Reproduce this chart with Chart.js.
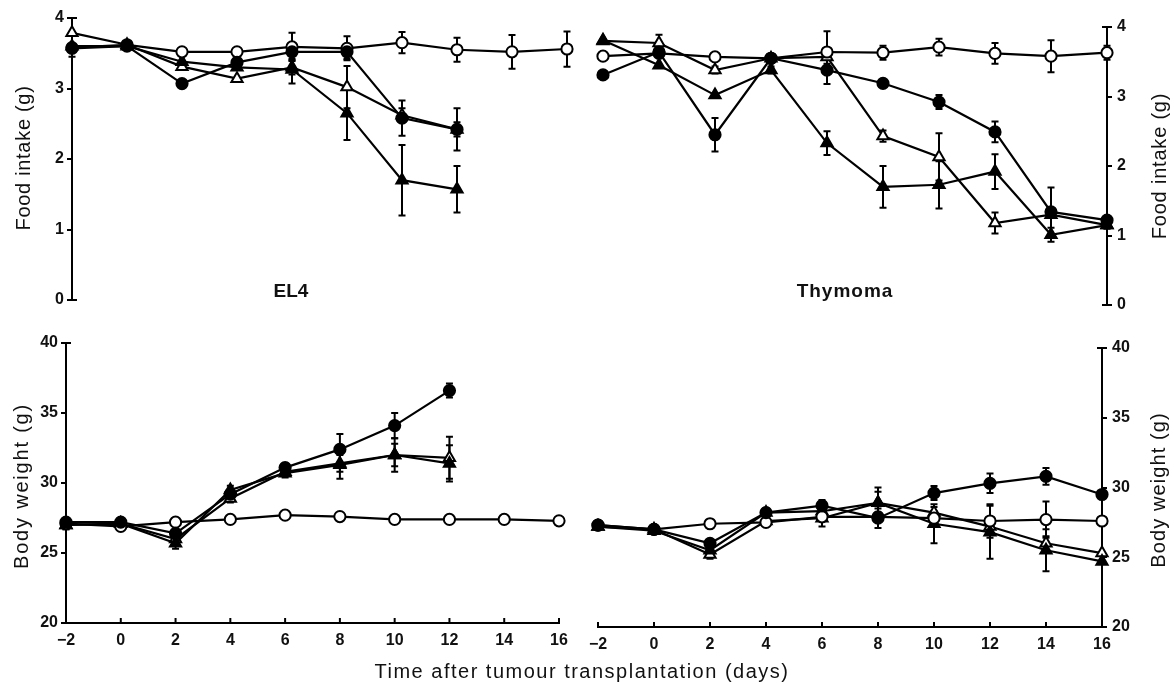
<!DOCTYPE html>
<html><head><meta charset="utf-8">
<script src="https://cdn.jsdelivr.net/npm/chart.js@4.4.1/dist/chart.umd.min.js"></script>
<style>
html,body{margin:0;padding:0;background:#fff;}
#wrap{position:relative;width:1174px;height:684px;overflow:hidden;background:#fff;}
canvas{position:absolute;left:0;top:0;}
.lbl{position:absolute;font-family:"Liberation Sans",Arial,sans-serif;color:#111;white-space:nowrap;line-height:1;}
.rot{transform:translate(-50%,-50%) rotate(-90deg);}
.ctr{transform:translate(-50%,-50%);}
</style></head><body>
<div id="wrap">
<canvas id="c1" width="1174" height="684"></canvas>
<canvas id="c2" width="1174" height="684"></canvas>
<canvas id="c3" width="1174" height="684"></canvas>
<canvas id="c4" width="1174" height="684"></canvas>
<div class="lbl ctr" style="left:291px;top:290px;font-size:19px;font-weight:bold;">EL4</div>
<div class="lbl ctr" style="left:845px;top:290px;font-size:19px;font-weight:bold;letter-spacing:1px;">Thymoma</div>
<div class="lbl ctr" style="left:582px;top:671px;font-size:20px;letter-spacing:1.5px;">Time after tumour transplantation (days)</div>
<div class="lbl rot" style="left:23px;top:158px;font-size:20px;letter-spacing:0.7px;">Food intake (g)</div>
<div class="lbl rot" style="left:21px;top:486px;font-size:20px;letter-spacing:1.8px;">Body weight (g)</div>
<div class="lbl rot" style="left:1159px;top:166px;font-size:20px;letter-spacing:0.8px;">Food intake (g)</div>
<div class="lbl rot" style="left:1158px;top:490px;font-size:20px;letter-spacing:1.1px;">Body weight (g)</div>
</div>
<script>
// ---- shared x categories / tick labels ----
const days = [-2, 0, 2, 4, 6, 8, 10, 12, 14, 16];
const xTickLabels = ['\u22122', '0', '2', '4', '6', '8', '10', '12', '14', '16'];
const foodTicks = [0, 1, 2, 3, 4];
const weightTicks = [20, 25, 30, 35, 40];

// ---- EL4: food intake (g) ----
const el4FoodOpenCircle      = [3.58, 3.62, 3.52, 3.52, 3.59, 3.57, 3.65, 3.55, 3.52, 3.56];
const el4FoodOpenCircleErr   = [0, 0.05, 0.05, 0.05, 0.2, 0.17, 0.15, 0.17, 0.24, 0.25];
const el4FoodFilledCircle    = [3.57, 3.60, 3.07, 3.37, 3.52, 3.52, 2.58, 2.42, null, null];
const el4FoodFilledCircleErr = [0, 0, 0, 0.05, 0.1, 0.1, 0.25, 0.3, null, null];
const el4FoodOpenTri         = [3.79, 3.62, 3.31, 3.14, 3.30, 3.02, 2.62, 2.42, null, null];
const el4FoodOpenTriErr      = [0, 0, 0, 0, 0.1, 0.3, 0.1, 0.1, null, null];
const el4FoodFilledTri       = [3.60, 3.60, 3.38, 3.30, 3.27, 2.65, 1.70, 1.57, null, null];
const el4FoodFilledTriErr    = [0.15, 0, 0, 0, 0.2, 0.38, 0.5, 0.33, null, null];

// ---- Thymoma: food intake (g) ----
const thyFoodOpenCircle      = [3.58, 3.62, 3.57, 3.55, 3.64, 3.63, 3.71, 3.62, 3.58, 3.63];
const thyFoodOpenCircleErr   = [0, 0.05, 0.05, 0, 0.3, 0.1, 0.12, 0.15, 0.23, 0.1];
const thyFoodFilledCircle    = [3.31, 3.64, 2.45, 3.55, 3.38, 3.19, 2.92, 2.49, 1.34, 1.22];
const thyFoodFilledCircleErr = [0, 0, 0.24, 0.05, 0.2, 0.05, 0.1, 0.15, 0.35, 0.05];
const thyFoodOpenTri         = [3.80, 3.77, 3.38, 3.55, 3.57, 2.43, 2.13, 1.18, 1.30, 1.15];
const thyFoodOpenTriErr      = [0, 0.12, 0.05, 0, 0.1, 0.08, 0.34, 0.15, 0, 0.05];
const thyFoodFilledTri       = [3.81, 3.45, 3.02, 3.38, 2.33, 1.70, 1.73, 1.92, 1.01, 1.15];
const thyFoodFilledTriErr    = [0, 0, 0, 0.05, 0.17, 0.3, 0.34, 0.25, 0.1, 0.05];

// ---- EL4: body weight (g) ----
const el4WtOpenCircle      = [27.1, 26.9, 27.2, 27.4, 27.7, 27.6, 27.4, 27.4, 27.4, 27.3];
const el4WtOpenCircleErr   = [0.2, 0, 0, 0, 0, 0, 0, 0, 0, 0];
const el4WtFilledCircle    = [27.2, 27.2, 26.4, 29.2, 31.1, 32.4, 34.1, 36.6, null, null];
const el4WtFilledCircleErr = [0.2, 0.2, 0.3, 0.3, 0.3, 1.1, 0.9, 0.5, null, null];
const el4WtOpenTri         = [27.0, 27.1, 26.0, 28.9, 30.8, 31.4, 32.0, 31.8, null, null];
const el4WtOpenTriErr      = [0.3, 0, 0.3, 0.3, 0.3, 0.6, 0.8, 1.5, null, null];
const el4WtFilledTri       = [27.0, 27.1, 25.7, 29.5, 30.7, 31.3, 32.0, 31.4, null, null];
const el4WtFilledTriErr    = [0.3, 0, 0.4, 0.3, 0.3, 1.0, 1.2, 1.3, null, null];

// ---- Thymoma: body weight (g) ----
const thyWtOpenCircle      = [27.3, 27.0, 27.4, 27.5, 27.9, 27.9, 27.8, 27.6, 27.7, 27.6];
const thyWtOpenCircleErr   = [0, 0, 0.3, 0.2, 0.2, 0.3, 0.5, 1.2, 1.3, 0];
const thyWtFilledCircle    = [27.3, 27.0, 26.0, 28.2, 28.7, 27.8, 29.6, 30.3, 30.8, 29.5];
const thyWtFilledCircleErr = [0, 0, 0.2, 0.3, 0.4, 0.7, 0.5, 0.7, 0.6, 0];
const thyWtOpenTri         = [27.2, 27.0, 25.2, 27.6, 27.8, 28.9, 28.2, 27.2, 26.0, 25.3];
const thyWtOpenTriErr      = [0, 0, 0.3, 0.3, 0.6, 1.1, 0.4, 0.6, 0.5, 0];
const thyWtFilledTri       = [27.2, 26.9, 25.5, 28.2, 28.3, 28.9, 27.4, 26.8, 25.5, 24.7];
const thyWtFilledTriErr    = [0, 0, 0.3, 0.3, 0.4, 0.8, 1.4, 1.9, 1.5, 0];

// ---- plugins ----
const errorBarPlugin = {
  id: 'errbars',
  beforeDatasetsDraw(chart) {
    const ctx = chart.ctx, xs = chart.scales.x, ys = chart.scales.y;
    ctx.save();
    ctx.strokeStyle = '#000'; ctx.lineWidth = 2;
    chart.data.datasets.forEach(ds => {
      const errs = ds.errorBars; if (!errs) return;
      ds.data.forEach((p, i) => {
        const e = errs[i];
        if (p.y == null || !e) return;
        const x = xs.getPixelForValue(p.x);
        const yt = ys.getPixelForValue(p.y + e), yb = ys.getPixelForValue(p.y - e);
        ctx.beginPath();
        ctx.moveTo(x, yt); ctx.lineTo(x, yb);
        ctx.moveTo(x - 3.5, yt); ctx.lineTo(x + 3.5, yt);
        ctx.moveTo(x - 3.5, yb); ctx.lineTo(x + 3.5, yb);
        ctx.stroke();
      });
    });
    ctx.restore();
  }
};
// inward tick marks: all x ticks, and the end ticks of the y axis
const inwardTicks = {
  id: 'inticks',
  afterDraw(chart, args, opts) {
    const xs = chart.scales.x, ys = chart.scales.y, ctx = chart.ctx;
    ctx.save(); ctx.strokeStyle = '#000'; ctx.lineWidth = 2;
    if (opts && opts.on) {
      xs.ticks.forEach(t => {
        const x = xs.getPixelForValue(t.value);
        ctx.beginPath(); ctx.moveTo(x, xs.top); ctx.lineTo(x, xs.top - 5); ctx.stroke();
      });
    }
    const ax = ys.position === 'left' ? chart.chartArea.left : chart.chartArea.right;
    const dir = ys.position === 'left' ? 1 : -1;
    [ys.min, ys.max].forEach(v => {
      const y = ys.getPixelForValue(v);
      ctx.beginPath(); ctx.moveTo(ax, y); ctx.lineTo(ax + dir * 5, y); ctx.stroke();
    });
    ctx.restore();
  }
};

const FONT = '"Liberation Sans", Arial, sans-serif';

function series(vals, errs, kind) {
  const filled = kind.startsWith('filled');
  const tri = kind.endsWith('Tri');
  return {
    data: days.map((d, i) => ({ x: d, y: vals[i] })),
    errorBars: errs,
    borderColor: '#000',
    borderWidth: 2.2,
    tension: 0,
    clip: false,
    spanGaps: false,
    pointStyle: tri ? 'triangle' : 'circle',
    pointRadius: tri ? 6.5 : 5.6,
    pointBorderWidth: 2,
    pointBackgroundColor: filled ? '#000' : '#fff',
    pointBorderColor: '#000',
    fill: false
  };
}

function makeChart(id, sets, cfg) {
  const yTicks = cfg.yTickValues;
  const opts = {
    responsive: false, animation: false, devicePixelRatio: 1,
    layout: { padding: cfg.padding },
    plugins: { legend: { display: false }, tooltip: { enabled: false }, inticks: { on: cfg.showX } },
    scales: {
      x: {
        type: 'linear', min: -2, max: 16, display: cfg.showX,
        grid: { display: false, drawTicks: false },
        border: { display: true, color: '#000', width: 2 },
        afterBuildTicks: s => { s.ticks = days.map(v => ({ value: v })); },
        afterFit: s => { s.height = cfg.showX ? 30 : 0; },
        ticks: {
          padding: 8, color: '#111', font: { family: FONT, size: 16, weight: 'bold' },
          callback: v => xTickLabels[days.indexOf(v)]
        }
      },
      y: {
        type: 'linear', position: cfg.yPos, min: yTicks[0], max: yTicks[yTicks.length - 1],
        grid: { drawOnChartArea: false, drawTicks: true, tickLength: 5, color: '#000', lineWidth: 2 },
        border: { display: true, color: '#000', width: 2 },
        afterBuildTicks: s => { s.ticks = yTicks.map(v => ({ value: v })); },
        afterFit: s => { s.width = 40; },
        ticks: { padding: cfg.yPos === 'left' ? 3 : 5, color: '#111', font: { family: FONT, size: 16, weight: 'bold' } }
      }
    }
  };
  return new Chart(document.getElementById(id), {
    type: 'line',
    data: { datasets: sets },
    options: opts,
    plugins: [errorBarPlugin, inwardTicks]
  });
}

// top-left: EL4 food intake  (chart area 72..567 x 18..300)
makeChart('c1', [
  series(el4FoodFilledCircle, el4FoodFilledCircleErr, 'filledCircle'),
  series(el4FoodOpenCircle, el4FoodOpenCircleErr, 'openCircle'),
  series(el4FoodFilledTri, el4FoodFilledTriErr, 'filledTri'),
  series(el4FoodOpenTri, el4FoodOpenTriErr, 'openTri')
], { padding: { left: 32, right: 607, top: 18, bottom: 384 }, yPos: 'left', showX: false, yTickValues: foodTicks });

// top-right: Thymoma food intake (chart area 603..1107 x 27..305)
makeChart('c2', [
  series(thyFoodFilledCircle, thyFoodFilledCircleErr, 'filledCircle'),
  series(thyFoodOpenCircle, thyFoodOpenCircleErr, 'openCircle'),
  series(thyFoodFilledTri, thyFoodFilledTriErr, 'filledTri'),
  series(thyFoodOpenTri, thyFoodOpenTriErr, 'openTri')
], { padding: { left: 603, right: 27, top: 27, bottom: 379 }, yPos: 'right', showX: false, yTickValues: foodTicks });

// bottom-left: EL4 body weight (chart area 66..559 x 343..623)
makeChart('c3', [
  series(el4WtFilledCircle, el4WtFilledCircleErr, 'filledCircle'),
  series(el4WtOpenCircle, el4WtOpenCircleErr, 'openCircle'),
  series(el4WtFilledTri, el4WtFilledTriErr, 'filledTri'),
  series(el4WtOpenTri, el4WtOpenTriErr, 'openTri')
], { padding: { left: 26, right: 615, top: 343, bottom: 31 }, yPos: 'left', showX: true, yTickValues: weightTicks });

// bottom-right: Thymoma body weight (chart area 598..1102 x 348..627)
makeChart('c4', [
  series(thyWtFilledCircle, thyWtFilledCircleErr, 'filledCircle'),
  series(thyWtOpenCircle, thyWtOpenCircleErr, 'openCircle'),
  series(thyWtFilledTri, thyWtFilledTriErr, 'filledTri'),
  series(thyWtOpenTri, thyWtOpenTriErr, 'openTri')
], { padding: { left: 598, right: 32, top: 348, bottom: 27 }, yPos: 'right', showX: true, yTickValues: weightTicks });
</script>
</body></html>
